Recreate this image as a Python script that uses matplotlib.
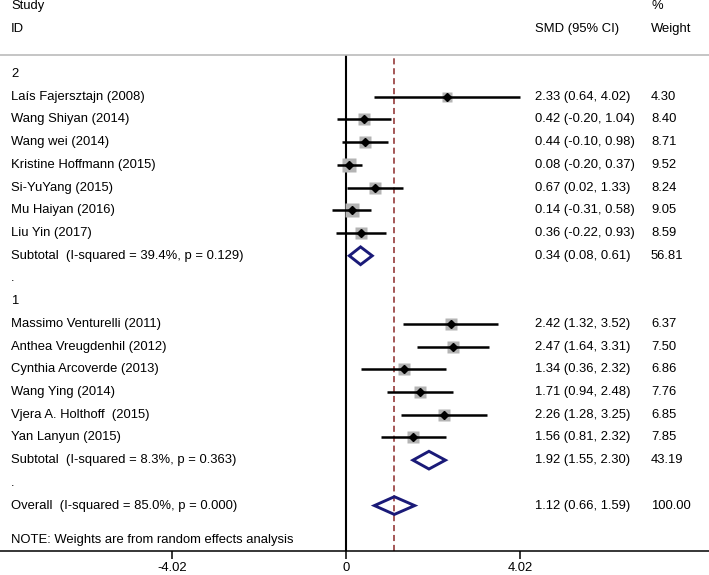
import matplotlib
matplotlib.use("Agg")
import matplotlib.pyplot as plt
from matplotlib.patches import Polygon

plt.rcParams['font.family'] = ['Liberation Sans', 'DejaVu Sans']

# group 2
g2_study = ["Laís Fajersztajn (2008)", "Wang Shiyan (2014)", "Wang wei (2014)",
            "Kristine Hoffmann (2015)", "Si-YuYang (2015)", "Mu Haiyan (2016)", "Liu Yin (2017)"]
g2_smd = [2.33, 0.42, 0.44, 0.08, 0.67, 0.14, 0.36]
g2_lo = [0.64, -0.20, -0.10, -0.20, 0.02, -0.31, -0.22]
g2_hi = [4.02, 1.04, 0.98, 0.37, 1.33, 0.58, 0.93]
g2_w = [4.30, 8.40, 8.71, 9.52, 8.24, 9.05, 8.59]
g2_sub = [0.34, 0.08, 0.61, 56.81]
g2_het = "Subtotal  (I-squared = 39.4%, p = 0.129)"

# group 1
g1_study = ["Massimo Venturelli (2011)", "Anthea Vreugdenhil (2012)", "Cynthia Arcoverde (2013)",
            "Wang Ying (2014)", "Vjera A. Holthoff  (2015)", "Yan Lanyun (2015)"]
g1_smd = [2.42, 2.47, 1.34, 1.71, 2.26, 1.56]
g1_lo = [1.32, 1.64, 0.36, 0.94, 1.28, 0.81]
g1_hi = [3.52, 3.31, 2.32, 2.48, 3.25, 2.32]
g1_w = [6.37, 7.50, 6.86, 7.76, 6.85, 7.85]
g1_sub = [1.92, 1.55, 2.30, 43.19]
g1_het = "Subtotal  (I-squared = 8.3%, p = 0.363)"

overall = [1.12, 0.66, 1.59, 100.00]
overall_het = "Overall  (I-squared = 85.0%, p = 0.000)"

xticks = [-4.02, 0, 4.02]
xticklabels = ["-4.02", "0", "4.02"]

fs = 9.4
navy = "#1a1a78"

fig = plt.figure(figsize=(7.09, 5.75), dpi=100)
ax = fig.add_axes([0, 24 / 575, 1, 496 / 575])
ax.set_xlim(-7.99, 8.39)
ax.set_ylim(21.0, -0.84)
tr = ax.get_yaxis_transform()

x_lab, x_ci, x_w = 11 / 709, 535 / 709, 651 / 709


def text(x, y, s):
    ax.text(x, y, s, transform=tr, va="center", ha="left", fontsize=fs, clip_on=False)


def study(y, name, m, lo, hi, w):
    text(x_lab, y, name)
    ax.plot([lo, hi], [y, y], color="black", lw=1.8, zorder=3, solid_capstyle="butt")
    side = 4.4 * w ** 0.5 * 0.72
    ax.plot(m, y, marker="s", color="#b4b4b4", markersize=side, mec="none", zorder=2)
    ax.plot(m, y, marker="D", color="black", markersize=4, zorder=4)
    text(x_ci, y, f"{m:.2f} ({lo:.2f}, {hi:.2f})")
    text(x_w, y, f"{w:.2f}")


def pooled(y, label, vals):
    m, lo, hi, w = vals
    text(x_lab, y, label)
    h = 0.39
    ax.add_patch(Polygon([(lo, y), (m, y - h), (hi, y), (m, y + h)], closed=True,
                         fill=False, edgecolor=navy, lw=2.1, zorder=4))
    text(x_ci, y, f"{m:.2f} ({lo:.2f}, {hi:.2f})")
    text(x_w, y, f"{w:.2f}")


# headers
text(x_lab, -3, "Study")
text(x_lab, -2, "ID")
text(x_ci, -2, "SMD (95% CI)")
text(x_w, -3, "%")
text(x_w, -2, "Weight")

row = 0
text(x_lab, row, "2")
for i in range(len(g2_study)):
    row += 1
    study(row, g2_study[i], g2_smd[i], g2_lo[i], g2_hi[i], g2_w[i])
row += 1
pooled(row, g2_het, g2_sub)
row += 1
text(x_lab, row, ".")
row += 1
text(x_lab, row, "1")
for i in range(len(g1_study)):
    row += 1
    study(row, g1_study[i], g1_smd[i], g1_lo[i], g1_hi[i], g1_w[i])
row += 1
pooled(row, g1_het, g1_sub)
row += 1
text(x_lab, row, ".")
row += 1
pooled(row, overall_het, overall)
text(x_lab, row + 1.5, "NOTE: Weights are from random effects analysis")

ax.axvline(0, color="black", lw=1.5, zorder=1)
ax.axvline(overall[0], color="#8b2a2a", lw=1.1, ls=(0, (4, 2.5)), zorder=1)

for s in ["left", "right"]:
    ax.spines[s].set_visible(False)
ax.spines["top"].set_color("#bbbbbb")
ax.spines["top"].set_linewidth(1.2)
ax.spines["bottom"].set_linewidth(1.1)
ax.set_yticks([])
ax.set_xticks(xticks)
ax.set_xticklabels(xticklabels)
ax.tick_params(axis="x", length=6, width=1.1, labelsize=fs, pad=2)

fig.savefig("out.png", dpi=100)
